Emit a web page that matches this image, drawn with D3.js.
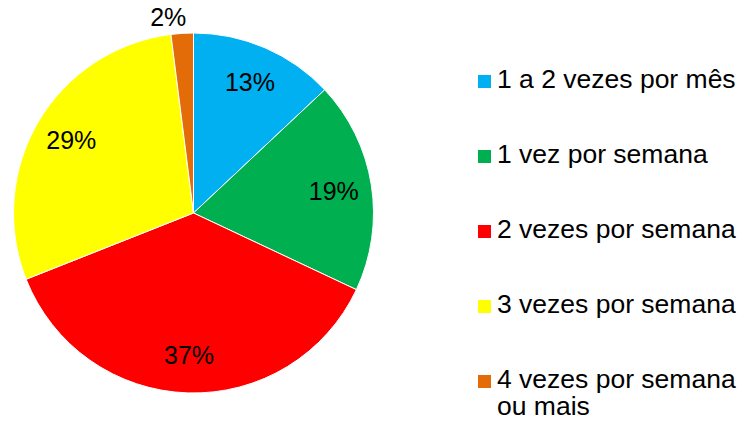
<!DOCTYPE html>
<html>
<head>
<meta charset="utf-8">
<script src="https://cdn.jsdelivr.net/npm/d3@7"></script>
<style>
  body { margin: 0; background: #fff; }
  text { font-family: "Liberation Sans", Arial, sans-serif; fill: #000; }
</style>
</head>
<body>
<svg width="742" height="429"></svg>
<script>
// frequency categories and their shares (%)
var categories = ["1 a 2 vezes por mês", "1 vez por semana", "2 vezes por semana", "3 vezes por semana", "4 vezes por semana ou mais"];
var values = [13, 19, 37, 29, 2];
var colors = ["#00B0F0", "#00B050", "#FF0000", "#FFFF00", "#E36C09"];
// legend labels broken into lines
var legendLines = [["1 a 2 vezes por mês"], ["1 vez por semana"], ["2 vezes por semana"], ["3 vezes por semana"], ["4 vezes por semana", "ou mais"]];

var svg = d3.select("svg"),
    cx = 193.5, cy = 213, radius = 180;

var g = svg.append("g").attr("transform", "translate(" + cx + "," + cy + ")");

var pie = d3.pie().sort(null).value(function(d) { return d; });
var arc = d3.arc().innerRadius(0).outerRadius(radius);
var labelArc = d3.arc().innerRadius(142).outerRadius(142);
var outerArc = d3.arc().innerRadius(196).outerRadius(196);

var arcs = pie(values);

g.selectAll("path")
    .data(arcs)
  .enter().append("path")
    .attr("d", arc)
    .attr("fill", function(d, i) { return colors[i]; })
    .attr("stroke", "#fff")
    .attr("stroke-width", 1);

// small slices get their label outside the pie
g.selectAll(".pct")
    .data(arcs)
  .enter().append("text")
    .attr("class", "pct")
    .attr("transform", function(d) {
      var small = d.data < 5;
      var c = (small ? outerArc : labelArc).centroid(d);
      return "translate(" + c + ")";
    })
    .attr("dy", "0.35em")
    .attr("dx", function(d) { return d.data < 5 ? -13 : 0; })
    .style("text-anchor", "middle")
    .style("font-size", "25px")
    .text(function(d) { return d.data + "%"; });

// legend
var legendY = d3.scalePoint().domain(categories).range([88, 388]);

var item = svg.selectAll(".legend")
    .data(categories)
  .enter().append("g")
    .attr("class", "legend")
    .attr("transform", function(d) { return "translate(478," + legendY(d) + ")"; });

item.append("rect")
    .attr("x", 0)
    .attr("y", -13)
    .attr("width", 13)
    .attr("height", 13)
    .attr("fill", function(d, i) { return colors[i]; });

item.append("text")
    .style("font-size", "26.5px")
    .selectAll("tspan")
    .data(function(d, i) { return legendLines[i]; })
  .enter().append("tspan")
    .attr("x", 19)
    .attr("dy", function(d, i) { return i === 0 ? 0 : 27; })
    .text(function(d) { return d; });
</script>
</body>
</html>
